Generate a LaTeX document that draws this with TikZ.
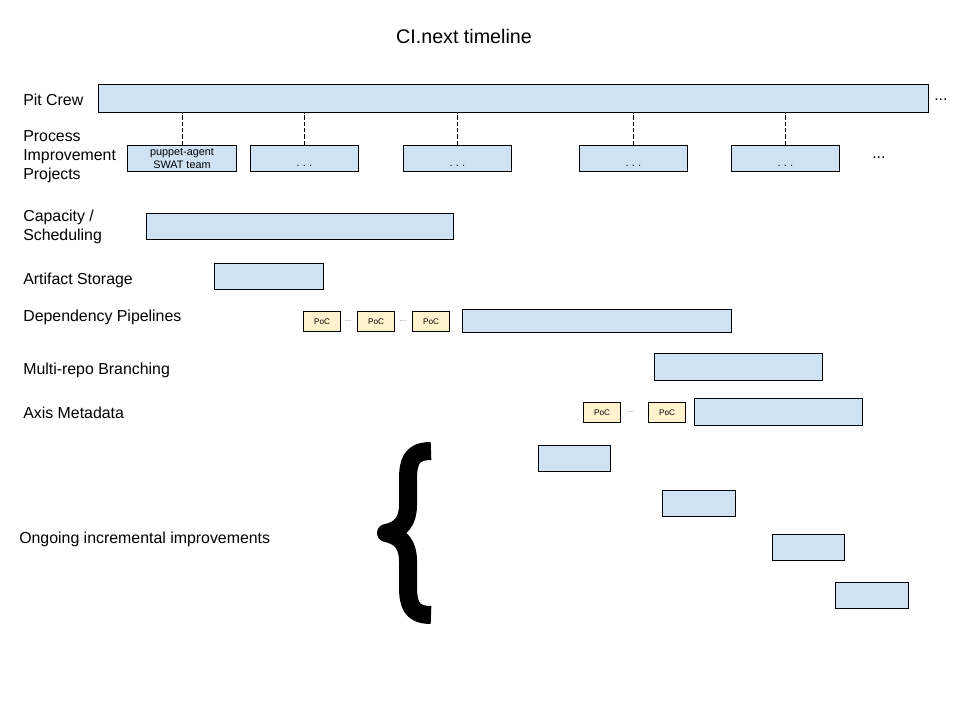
\documentclass[tikz,border=0pt]{standalone}
\usepackage{fontspec}
\setmainfont{Liberation Sans}
\usetikzlibrary{positioning}
\definecolor{barblue}{HTML}{CFE2F3}
\definecolor{pocyellow}{HTML}{FFF2CC}
\newcommand{\lowdots}{\smash{\raisebox{-5.5pt}{.\hspace{2.2pt}.\hspace{2.2pt}.}}}

\begin{document}
\begin{tikzpicture}[x=0.025cm,y=-0.025cm,every node/.style={inner sep=0pt},
    bar/.style n args={2}{draw=black,line width=0.7pt,fill=barblue,anchor=north west,
        minimum width=#1*0.025cm,minimum height=#2*0.025cm},
    poc/.style={draw=black,line width=0.7pt,fill=pocyellow,anchor=north west,
        minimum width=37*0.025cm,minimum height=20*0.025cm,font=\fontsize{5.8}{6}\selectfont},
    lbl/.style={anchor=west,align=left,font=\fontsize{11.3}{13.5}\selectfont},
    gap/.style={font=\fontsize{5.5}{5.5}\selectfont,text=black!60}]
  \useasboundingbox (0,0) rectangle (960,720);

  \node (title) at (464,36) {\fontsize{14}{16}\selectfont CI.next timeline};

  % row labels
  \node[lbl] (lpit)  at (23,100) {Pit Crew};
  \node[lbl] (lproc) at (23,157) {Process\\Improvement\\Projects};
  \node[lbl] (lcap)  at (23,227) {Capacity /\\Scheduling};
  \node[lbl] (lart)  at (23,280) {Artifact Storage};
  \node[lbl] (ldep)  at (23,317) {Dependency Pipelines};
  \node[lbl] (lmr)   at (23,370) {Multi-repo Branching};
  \node[lbl] (laxis) at (23,413) {Axis Metadata};
  \node[lbl] (lgo)   at (19,539) {Ongoing incremental improvements};

  % pit crew and process improvement projects
  \node[bar={830}{28}] (pit) at (98,84) {};
  \node[lbl] (pitmore) at (934,100) {...};
  \node[bar={109}{26},font=\fontsize{7.7}{9.2}\selectfont,align=center] (pi1) at (127,145) {puppet-agent\\SWAT team};
  \node[bar={108}{26},font=\fontsize{8}{8}\selectfont] (pi2) at (250,145) {\lowdots};
  \node[bar={108}{26},font=\fontsize{8}{8}\selectfont] (pi3) at (403,145) {\lowdots};
  \node[bar={108}{26},font=\fontsize{8}{8}\selectfont] (pi4) at (579,145) {\lowdots};
  \node[bar={108}{26},font=\fontsize{8}{8}\selectfont] (pi5) at (731,145) {\lowdots};
  \node[lbl] (pimore) at (872,158) {...};
  \foreach \b in {pi1,pi2,pi3,pi4,pi5}
    \draw[dash pattern=on 3pt off 1.5pt,line width=0.6pt] (\b.north) -- (\b.north |- pit.south);

  % workstreams
  \node[bar={307}{26}] (cap) at (146,213) {};
  \node[bar={109}{26}] (art) at (214,263) {};
  \node[poc] (dpoc1) at (303,311) {PoC};
  \node[poc] (dpoc2) at (357,311) {PoC};
  \node[poc] (dpoc3) at (412,311) {PoC};
  \node[gap] (dgap1) at (348,321) {...};
  \node[gap] (dgap2) at (403,321) {...};
  \node[bar={269}{23}] (dep) at (462,309) {};
  \node[bar={168}{27}] (mr) at (654,353) {};
  \node[poc] (apoc1) at (583,402) {PoC};
  \node[poc] (apoc2) at (648,402) {PoC};
  \node[gap] (agap) at (631,412) {...};
  \node[bar={168}{27}] (axis) at (694,398) {};

  % ongoing
  \node[bar={72}{26}] (go1) at (538,445) {};
  \node[bar={73}{26}] (go2) at (662,490) {};
  \node[bar={72}{26}] (go3) at (772,534) {};
  \node[bar={73}{26}] (go4) at (835,582) {};

  \draw[line width=0.45cm,line join=round] (431,451) .. controls (411,451) and (408,462) .. (408,480)
    -- (408,505) .. controls (408,521) and (401,530) .. (386,533)
    .. controls (401,536) and (408,545) .. (408,561) -- (408,586)
    .. controls (408,604) and (411,615) .. (431,615);
\end{tikzpicture}
\end{document}
